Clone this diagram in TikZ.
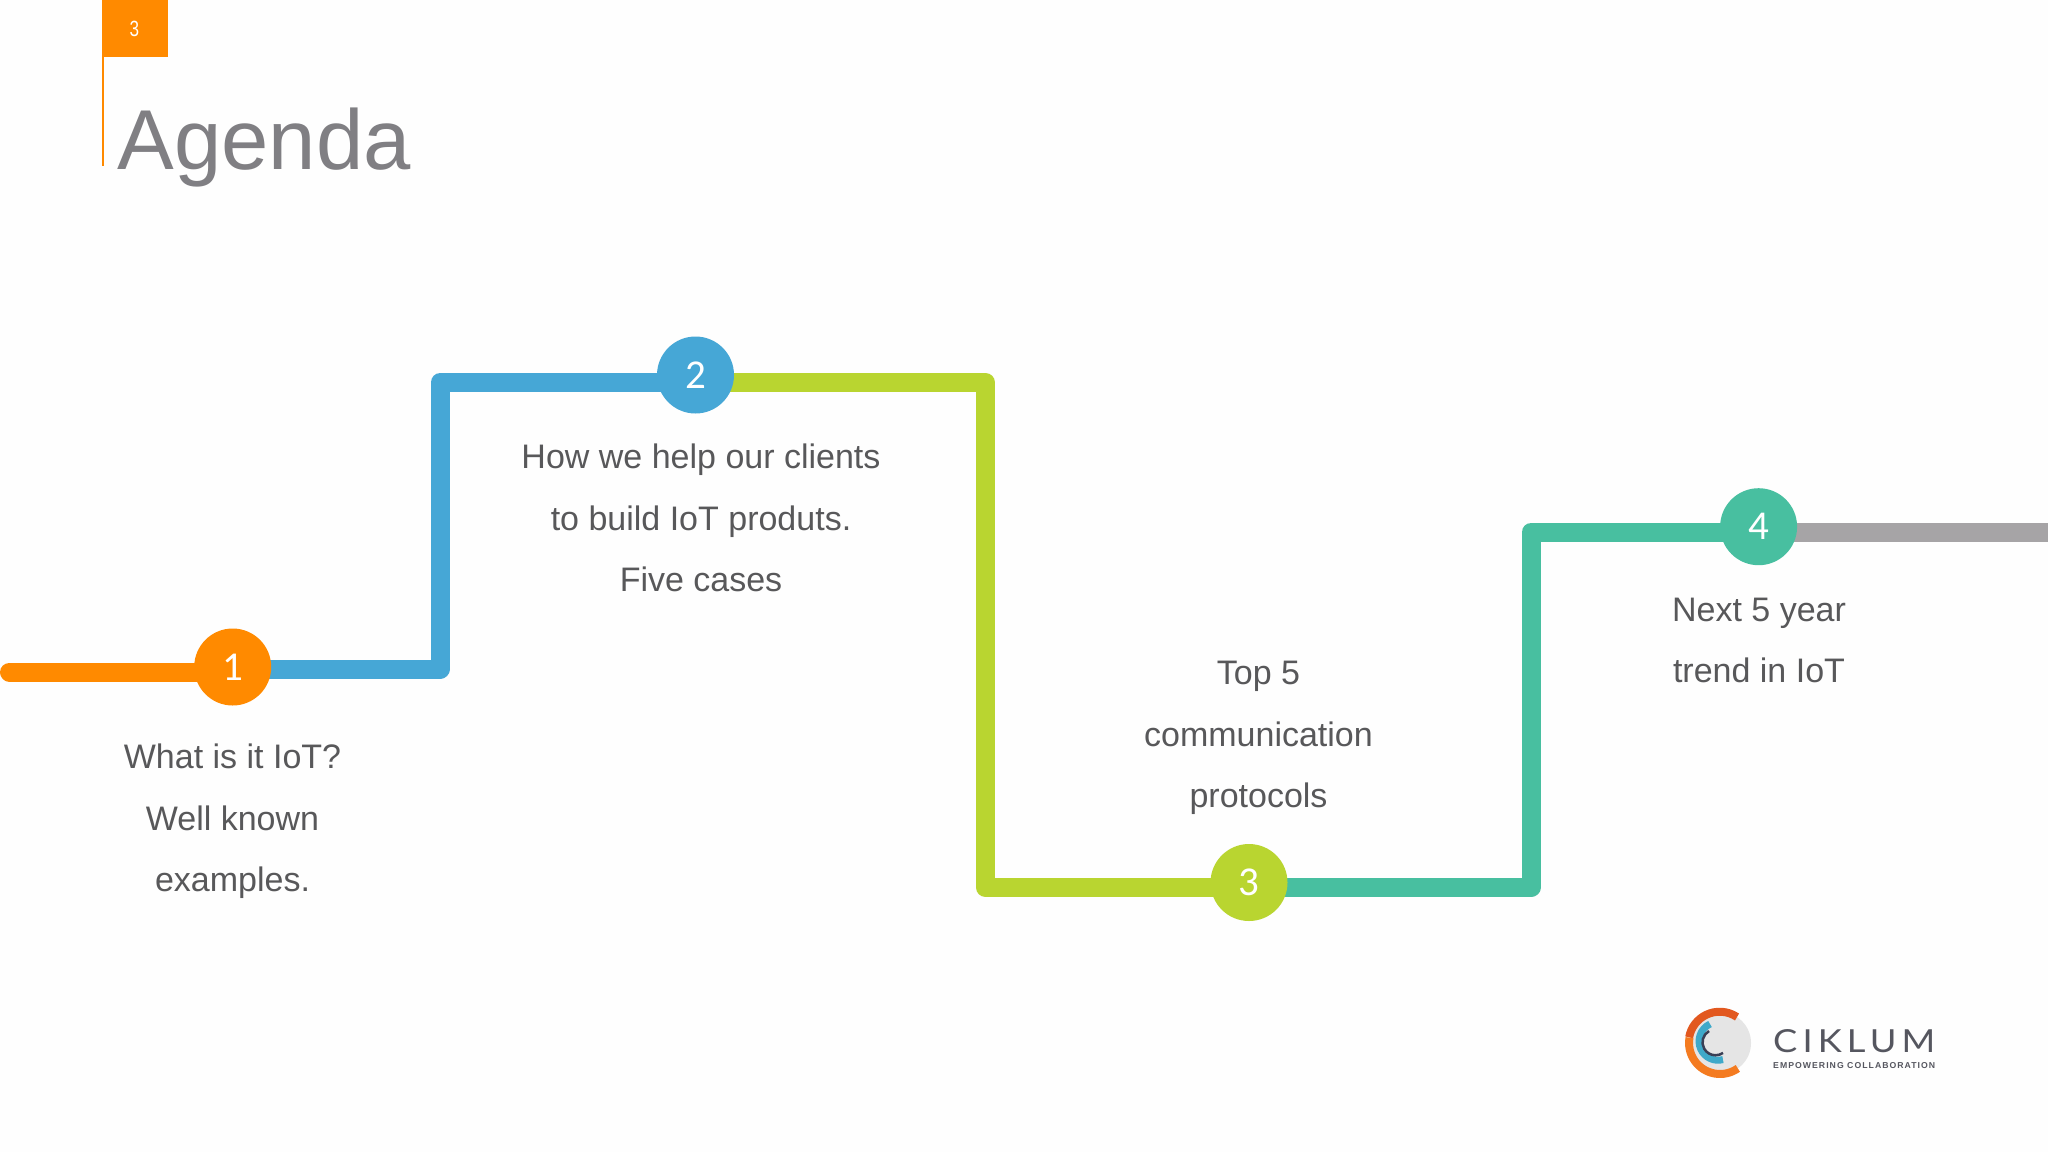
\documentclass[tikz,border=0pt]{standalone}
\usepackage{fontspec}
\usepackage{graphicx}
\setmainfont{Liberation Sans}
\newfontfamily\numfont{Carlito}
\newfontfamily\logofont[LetterSpace=14]{Lato}
\newfontfamily\logosub[LetterSpace=12]{Liberation Sans}
\usetikzlibrary{backgrounds}
\definecolor{cOrange}{HTML}{FF8A00}
\definecolor{cBlue}{HTML}{46A7D6}
\definecolor{cGreen}{HTML}{B9D530}
\definecolor{cTeal}{HTML}{48BFA0}
\definecolor{cGray}{HTML}{A6A4A6}
\definecolor{cTitle}{HTML}{807F83}
\definecolor{cBody}{HTML}{58585A}
\definecolor{cLogoA}{HTML}{E2581F}
\definecolor{cLogoB}{HTML}{F47B20}
\definecolor{cLogoC}{HTML}{3FA9C9}
\definecolor{cLogoD}{HTML}{3A3F55}
\definecolor{cLogoT}{HTML}{55565F}
\tikzset{
  seg/.style={line width=19pt,line join=round},
  stepdot/.style={circle,minimum size=77pt,inner sep=0pt,text=white,font=\numfont\fontsize{41}{41}\selectfont},
  bodytext/.style={text=cBody,align=center,inner sep=0pt,font=\fontsize{34}{61.4}\selectfont},
}
\begin{document}
\begin{tikzpicture}[x=1pt,y=-1pt]
\useasboundingbox (0,0) rectangle (2048,1152);
% step markers
\node[stepdot,fill=cOrange] (n1) at (232.7,667) {\raisebox{-1pt}{1}};
\node[stepdot,fill=cBlue] (n2) at (695.5,375) {\raisebox{-1pt}{2}};
\node[stepdot,fill=cGreen] (n3) at (1249,882.5) {\raisebox{-1pt}{3}};
\node[stepdot,fill=cTeal] (n4) at (1758.6,526.7) {\raisebox{-1pt}{4}};
% corners and free ends
\coordinate (s0) at (9.5,672);
\coordinate (b1) at (440,669);
\coordinate (b2) at (440,382.5);
\coordinate (g1) at (985.5,382.5);
\coordinate (g2) at (985.5,887.5);
\coordinate (t1) at (1531,887.5);
\coordinate (t2) at (1531,532);
\coordinate (e0) at (2048,532);
\begin{scope}[on background layer]
  \fill[white!99.5!black] (0,0) rectangle (2048,1152);
  \draw[seg,cOrange,line cap=round] (s0) -- (n1.center |- s0);
  \draw[seg,cBlue] (n1.center |- b1) -- (b1) -- (b2) -- (n2.center |- b2);
  \draw[seg,cGreen] (n2.center |- g1) -- (g1) -- (g2) -- (n3.center |- g2);
  \draw[seg,cTeal] (n3.center |- t1) -- (t1) -- (t2) -- (n4.center |- t2);
  \draw[seg,cGray] (n4.center |- e0) -- (e0);
\end{scope}
% header
\fill[cOrange] (101.5,0) rectangle (168,56.7);
\fill[cOrange] (101.5,56) rectangle (103.5,166);
\node[inner sep=0pt,text=white] (pg) at (134.5,29) {\scalebox{0.78}[1]{\fontsize{22}{22}\selectfont 3}};
\node[anchor=base west,inner sep=0pt,text=cTitle,font=\fontsize{85}{85}\selectfont] (title) at (117.5,169) {Agenda};
% labels
\node[bodytext] (l1) at (232.5,821.5) {What is it IoT?\\Well known\\examples.};
\node[bodytext] (l2) at (701,518) {How we help our clients\\to build IoT produts.\\Five cases};
\node[bodytext] (l3) at (1258.5,738) {Top 5\\communication\\protocols};
\node[bodytext] (l4) at (1759,640.5) {Next 5 year\\trend in IoT};
% logo
\fill[black!10] (1720,1043) circle (31);
\draw[cLogoA,line width=8pt] (1737,1017) arc[start angle=-56,end angle=-170,radius=31];
\draw[cLogoB,line width=8pt] (1689.5,1037.6) arc[start angle=-170,end angle=-305,radius=31];
\draw[cLogoC,line width=7pt] (1710,1024) arc[start angle=-115,end angle=-285,radius=19];
\draw[cLogoD,line width=2.5pt] (1709,1031) arc[start angle=-120,end angle=-305,radius=13];
\node[anchor=base west,inner sep=0pt,text=cLogoT] (logo) at (1773,1052) {\resizebox{162pt}{23pt}{\logofont CIKLUM}};
\node[anchor=base west,inner sep=0pt,text=cLogoT] (logosub) at (1773,1068) {\resizebox{162pt}{6pt}{\logosub\bfseries EMPOWERING COLLABORATION}};
\end{tikzpicture}
\end{document}
